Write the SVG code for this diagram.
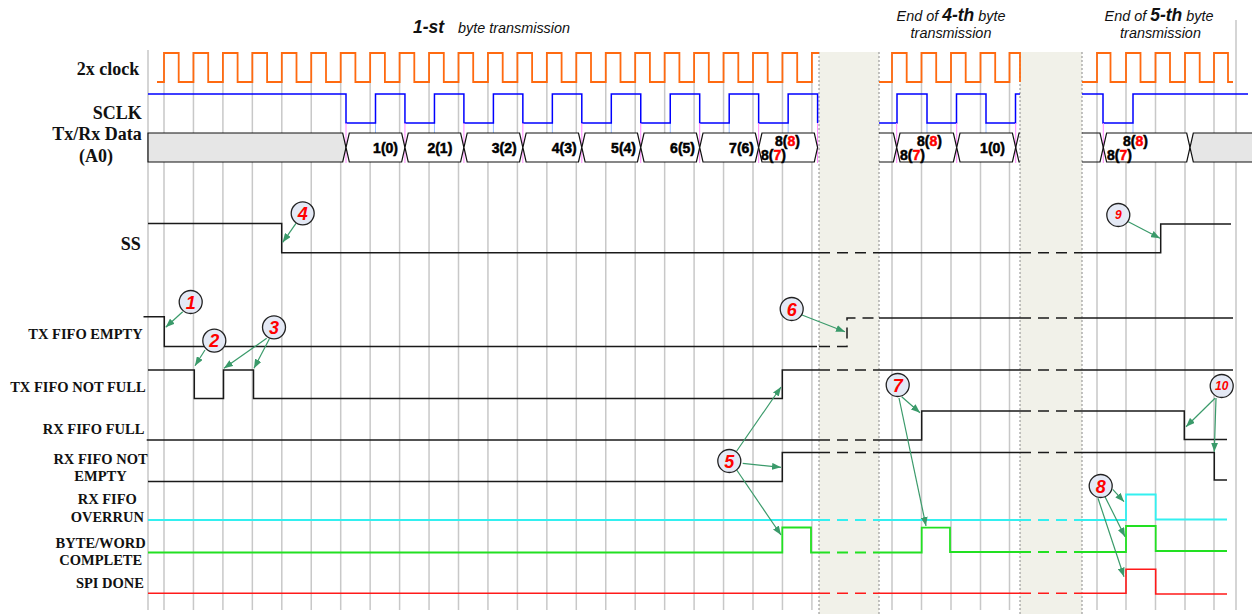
<svg xmlns="http://www.w3.org/2000/svg" width="1252" height="614" viewBox="0 0 1252 614">
<style>
.grid{stroke:#c8c8c8;stroke-width:1.5;fill:none}
.dot{stroke:#8a8a8a;stroke-width:1;stroke-dasharray:2 2;fill:none}
.shade{fill:#f1f1e9}
.sig{stroke:#1a1a1a;stroke-width:1.5;fill:none}
.dash{stroke-dasharray:11 7}
.clk{stroke:#ff6a10;stroke-width:1.8;fill:none}
.sclk{stroke:#0000ff;stroke-width:1.5;fill:none}
.cyan{stroke:#33f0f0;stroke-width:1.8;fill:none}
.green{stroke:#22e022;stroke-width:1.8;fill:none}
.red{stroke:#ff1a1a;stroke-width:1.6;fill:none}
.box{stroke:#111;stroke-width:1.2;fill:#fff}
.gbox{stroke:#111;stroke-width:1.2;fill:#e6e6e6}
.open{stroke:#111;stroke-width:1.2;fill:none}
.pink{stroke:#ff88ff;stroke-width:1}
.lb{stroke:#99bbff;stroke-width:1}
.lbl{font-family:"Liberation Serif","Times New Roman",serif;font-weight:bold;fill:#111}
.dat{font-family:"Liberation Sans",Arial,sans-serif;font-weight:bold;font-size:14px;fill:#000;stroke:#000;stroke-width:0.5}
.r{fill:#ff0000;stroke:#ff0000}
.ttl{font-family:"Liberation Sans",Arial,sans-serif;font-style:italic;font-size:14.4px;fill:#111}
.bi{font-weight:bold;font-size:17.5px}
.circ{fill:#e4e9f5;stroke:#222;stroke-width:1.3}
.num{font-family:"Liberation Sans",Arial,sans-serif;font-weight:bold;font-style:italic;font-size:18px;fill:#ff0000;text-anchor:middle}
.sm{font-size:12px}
.arr{stroke:#3a9a6a;stroke-width:1.2;fill:none;marker-end:url(#ah)}
</style>
<defs>
<marker id="ah" viewBox="0 0 9 7" refX="9" refY="3.5" markerWidth="9" markerHeight="7" markerUnits="userSpaceOnUse" orient="auto">
<path d="M0,0 L9,3.5 L0,7 z" fill="#3a9a6a"/>
</marker>
</defs>
<rect width="1252" height="614" fill="#fff"/>

<g id="background">
<rect class="shade" x="819" y="52" width="60" height="562"/>
<rect class="shade" x="1020" y="52" width="62" height="562"/>
<path class="grid" d="M148,50V610 M164,52V610 M193.45,52V610 M222.9,52V610 M252.35,52V610 M281.8,52V610 M311.25,52V610 M340.7,52V610 M370.15,52V610 M399.6,52V610 M429.05,52V610 M458.5,52V610 M487.95,52V610 M517.4,52V610 M546.85,52V610 M576.3,52V610 M605.75,52V610 M635.2,52V610 M664.65,52V610 M694.1,52V610 M723.55,52V610 M753,52V610 M782.45,52V610 M811.9,52V610 M892,52V610 M921.5,52V610 M951,52V610 M980.5,52V610 M1009.5,52V610 M1097,52V610 M1126,52V610 M1155.5,52V610 M1185,52V610 M1214,52V610 M1236,20V610"/>
<path class="dot" d="M819,52V614 M879,52V614 M1020,52V614 M1082,52V614"/>
</g>

<g id="titles">
<text class="ttl" x="413" y="33"><tspan class="bi" font-size="17px">1-st</tspan><tspan x="458">byte transmission</tspan></text>
<text class="ttl" x="951" y="20.7" text-anchor="middle">End of <tspan class="bi">4-th</tspan> byte</text>
<text class="ttl" x="951" y="38.3" text-anchor="middle">transmission</text>
<text class="ttl" x="1159" y="20.7" text-anchor="middle">End of <tspan class="bi">5-th</tspan> byte</text>
<text class="ttl" x="1160.5" y="38.3" text-anchor="middle">transmission</text>
</g>

<g id="clock">
<text class="lbl" x="139.3" y="75" font-size="18" text-anchor="end">2x clock</text>
<path class="clk" d="M157,82 H164 V53 H178.7 V82 H193.45 V53 H208.2 V82 H222.9 V53 H237.6 V82 H252.35 V53 H267.1 V82 H281.8 V53 H296.5 V82 H311.25 V53 H326 V82 H340.7 V53 H355.4 V82 H370.15 V53 H384.9 V82 H399.6 V53 H414.3 V82 H429.05 V53 H443.8 V82 H458.5 V53 H473.2 V82 H487.95 V53 H502.7 V82 H517.4 V53 H532.1 V82 H546.85 V53 H561.6 V82 H576.3 V53 H591 V82 H605.75 V53 H620.5 V82 H635.2 V53 H649.9 V82 H664.65 V53 H679.4 V82 H694.1 V53 H708.8 V82 H723.55 V53 H738.3 V82 H753 V53 H767.7 V82 H782.45 V53 H797.2 V82 H811.9 V53 H819"/>
<path class="clk" d="M879,82 H892 V53 H906.7 V82 H921.5 V53 H936.2 V82 H951 V53 H965.7 V82 H980.5 V53 H995.2 V82 H1009.5 V53 H1020 V82"/>
<path class="clk" d="M1082,82 H1097 V53 H1110.5 V82 H1126 V53 H1140.5 V82 H1155.5 V53 H1170 V82 H1185 V53 H1199.7 V82 H1214 V53 H1228 V82 H1233"/>
</g>

<g id="sclk">
<text class="lbl" x="141.7" y="119" font-size="18" text-anchor="end">SCLK</text>
<path class="lb" d="M375.5,123V133 M434.45,123V133 M493.4,123V133 M552.35,123V133 M611.3,123V133 M670.25,123V133 M729.2,123V133 M788.15,123V133 M927,123V133 M986,123V133 M1133,123V133"/>
<path class="sclk" d="M148,94 H346 V123 H375.5 V94 H404.95 V123 H434.45 V94 H463.9 V123 H493.4 V94 H522.85 V123 H552.35 V94 H581.8 V123 H611.3 V94 H640.75 V123 H670.25 V94 H699.7 V123 H729.2 V94 H758.65 V123 H788.15 V94 H817.6 V123"/>
<path class="sclk" d="M879,123 H897 V94 H927 V123 H956.5 V94 H986 V123 H1015.5 V94 H1020"/>
<path class="sclk" d="M1082,94 H1103 V123 H1133 V94 H1248"/>
</g>

<g id="data">
<text class="lbl" x="141.7" y="140" font-size="18" text-anchor="end">Tx/Rx Data</text>
<text class="lbl" x="96" y="162" font-size="18" text-anchor="middle">(A0)</text>
<path class="pink" d="M346,123V163 M404.95,123V163 M463.9,123V163 M522.85,123V163 M581.8,123V163 M640.75,123V163 M699.7,123V163 M758.65,123V163 M817.6,123V163 M896.7,123V163 M956.7,123V163 M1015.7,123V163 M1103.3,123V163"/>
<path class="gbox" d="M148,133 H342.7 L346,147.5 L342.7,162 H148 Z"/>
<path class="box" d="M349.3,133 H401.65 L404.95,147.5 L401.65,162 H349.3 L346,147.5 Z"/>
<path class="box" d="M408.25,133 H460.6 L463.9,147.5 L460.6,162 H408.25 L404.95,147.5 Z"/>
<path class="box" d="M467.2,133 H519.55 L522.85,147.5 L519.55,162 H467.2 L463.9,147.5 Z"/>
<path class="box" d="M526.15,133 H578.5 L581.8,147.5 L578.5,162 H526.15 L522.85,147.5 Z"/>
<path class="box" d="M585.1,133 H637.45 L640.75,147.5 L637.45,162 H585.1 L581.8,147.5 Z"/>
<path class="box" d="M644.05,133 H696.4 L699.7,147.5 L696.4,162 H644.05 L640.75,147.5 Z"/>
<path class="box" d="M703,133 H755.35 L758.65,147.5 L755.35,162 H703 L699.7,147.5 Z"/>
<path class="box" d="M761.95,133 H814.3 L817.6,147.5 L814.3,162 H761.95 L758.65,147.5 Z"/>
<path class="open" d="M879,133 H893.4 L896.7,147.5 L893.4,162 H879"/>
<path class="box" d="M900,133 H953.4 L956.7,147.5 L953.4,162 H900 L896.7,147.5 Z"/>
<path class="box" d="M960,133 H1012.4 L1015.7,147.5 L1012.4,162 H960 L956.7,147.5 Z"/>
<path class="open" d="M1020,133 H1019 L1015.7,147.5 L1019,162 H1020"/>
<path class="open" d="M1082,133 H1100 L1103.3,147.5 L1100,162 H1082"/>
<path class="box" d="M1106.6,133 H1186.7 L1190,147.5 L1186.7,162 H1106.6 L1103.3,147.5 Z"/>
<path class="gbox" d="M1252,133 H1193.3 L1190,147.5 L1193.3,162 H1252"/>
<text class="dat" x="398" y="153" text-anchor="end">1(0)</text>
<text class="dat" x="452.3" y="153" text-anchor="end">2(1)</text>
<text class="dat" x="516.7" y="153" text-anchor="end">3(2)</text>
<text class="dat" x="576.7" y="153" text-anchor="end">4(3)</text>
<text class="dat" x="636" y="153" text-anchor="end">5(4)</text>
<text class="dat" x="695" y="153" text-anchor="end">6(5)</text>
<text class="dat" x="754" y="153" text-anchor="end">7(6)</text>
<text class="dat" x="775" y="146">8(<tspan class="r">8</tspan>)</text>
<text class="dat" x="761" y="159.5">8(<tspan class="r">7</tspan>)</text>
<text class="dat" x="917" y="146">8(<tspan class="r">8</tspan>)</text>
<text class="dat" x="900" y="159.5">8(<tspan class="r">7</tspan>)</text>
<text class="dat" x="1005" y="153" text-anchor="end">1(0)</text>
<text class="dat" x="1123" y="146">8(<tspan class="r">8</tspan>)</text>
<text class="dat" x="1107" y="159.5">8(<tspan class="r">7</tspan>)</text>
</g>

<g id="ss">
<text class="lbl" x="140.7" y="250" font-size="18" text-anchor="end">SS</text>
<path class="sig" d="M148,223.5 H281.7 V252.7 H819 M879,252.7 H1020 M1082,252.7 H1160.7 V224 H1231"/>
<path class="sig dash" d="M819,252.7 H879 M1020,252.7 H1082"/>
</g>

<g id="tx-fifo-empty">
<text class="lbl" x="142.7" y="339" font-size="14.5" text-anchor="end">TX FIFO EMPTY</text>
<path class="sig" d="M143.5,316.7 H164.3 V346.5 H817 M879,318 H1020 M1082,318 H1233"/>
<path class="sig dash" d="M819,346.5 H847 V318 H879 M1020,318 H1082"/>
</g>

<g id="tx-fifo-not-full">
<text class="lbl" x="145.7" y="391.7" font-size="14.5" text-anchor="end">TX FIFO NOT FULL</text>
<path class="sig" d="M148,370 H194.3 V398.5 H223.5 V370 H253.5 V398.5 H782.3 V370 H819 M879,370 H1020 M1082,370 H1233"/>
<path class="sig dash" d="M819,370 H879 M1020,370 H1082"/>
</g>

<g id="rx-fifo-full">
<text class="lbl" x="144.3" y="434" font-size="14.5" text-anchor="end">RX FIFO FULL</text>
<path class="sig" d="M146.7,440 H819 M879,440 H921.7 V411 H1020 M1082,411 H1184.3 V439.5 H1227"/>
<path class="sig dash" d="M819,440 H879 M1020,411 H1082"/>
</g>

<g id="rx-fifo-not-empty">
<text class="lbl" x="100.5" y="464" font-size="14.5" text-anchor="middle">RX FIFO NOT</text>
<text class="lbl" x="100.5" y="480.7" font-size="14.5" text-anchor="middle">EMPTY</text>
<path class="sig" d="M148,481.5 H782.3 V452.5 H819 M879,452.5 H1020 M1082,452.5 H1214.3 V480 H1227"/>
<path class="sig dash" d="M819,452.5 H879 M1020,452.5 H1082"/>
</g>

<g id="rx-fifo-overrun">
<text class="lbl" x="107.3" y="504" font-size="14.5" text-anchor="middle">RX FIFO</text>
<text class="lbl" x="107.3" y="521.7" font-size="14.5" text-anchor="middle">OVERRUN</text>
<path class="cyan" d="M148,520 H819 M879,520 H1020 M1082,520 H1126 V494.5 H1155.7 V519.5 H1227"/>
<path class="cyan dash" d="M819,520 H879 M1020,520 H1082"/>
</g>

<g id="byte-word-complete">
<text class="lbl" x="100.7" y="548.3" font-size="14.5" text-anchor="middle">BYTE/WORD</text>
<text class="lbl" x="100.7" y="565" font-size="14.5" text-anchor="middle">COMPLETE</text>
<path class="green" d="M148,552.5 H782.3 V527.5 H811 V552.5 H819 M879,552.5 H921.7 V527.7 H950 V552 H1020 M1082,552 H1126 V526 H1155.7 V551 H1227"/>
<path class="green dash" d="M819,552.5 H879 M1020,552 H1082"/>
</g>

<g id="spi-done">
<text class="lbl" x="144" y="588.3" font-size="14.5" text-anchor="end">SPI DONE</text>
<path class="red" d="M148,593.3 H819 M879,593.3 H1020 M1082,593.3 H1126 V569.3 H1155.7 V594 H1227"/>
<path class="red dash" d="M819,593.3 H879 M1020,593.3 H1082"/>
</g>

<g id="connectors">
<path class="arr" d="M182.7,311.7 L165.7,327.3"/>
<path class="arr" d="M205,350 L195,365.7"/>
<path class="arr" d="M266.7,338.3 L224,368.3"/>
<path class="arr" d="M269.3,339 L254,368.3"/>
<path class="arr" d="M296,223.3 L282.7,242.3"/>
<path class="arr" d="M736.7,451 L781,387"/>
<path class="arr" d="M742.7,463.3 L781,467.3"/>
<path class="arr" d="M736.7,470 L781,535"/>
<path class="arr" d="M802,315 L845,331.7"/>
<path class="arr" d="M901.7,396.7 L920,412.7"/>
<path class="arr" d="M899,398 L926,526"/>
<path class="arr" d="M1112.7,489.3 L1124,501.7"/>
<path class="arr" d="M1105,496.7 L1125,536.7"/>
<path class="arr" d="M1098,498.3 L1124,576.7"/>
<path class="arr" d="M1128.3,221.7 L1160,238.3"/>
<path class="arr" d="M1215,398.3 L1186,426.7"/>
<path class="arr" d="M1216,398 L1214.3,451.7"/>
</g>

<g id="callout-1"><circle class="circ" cx="190.7" cy="302" r="11.5"/><text class="num" x="190.7" y="308.5">1</text></g>
<g id="callout-2"><circle class="circ" cx="214.3" cy="340.7" r="11.5"/><text class="num" x="214.3" y="347.2">2</text></g>
<g id="callout-3"><circle class="circ" cx="274" cy="327.3" r="11.5"/><text class="num" x="274" y="333.8">3</text></g>
<g id="callout-4"><circle class="circ" cx="302.7" cy="213.3" r="11.5"/><text class="num" x="302.7" y="219.8">4</text></g>
<g id="callout-5"><circle class="circ" cx="729.3" cy="461" r="11.5"/><text class="num" x="729.3" y="467.5">5</text></g>
<g id="callout-6"><circle class="circ" cx="791.7" cy="309" r="11.5"/><text class="num" x="791.7" y="315.5">6</text></g>
<g id="callout-7"><circle class="circ" cx="897.7" cy="385" r="11.5"/><text class="num" x="897.7" y="391.5">7</text></g>
<g id="callout-8"><circle class="circ" cx="1100.7" cy="486" r="11.5"/><text class="num" x="1100.7" y="492.5">8</text></g>
<g id="callout-9"><circle class="circ" cx="1118.3" cy="215" r="11.5"/><text class="num sm" x="1118.3" y="219.3">9</text></g>
<g id="callout-10"><circle class="circ" cx="1221.7" cy="386" r="11.5"/><text class="num sm" x="1221.7" y="390.3">10</text></g>
</svg>
